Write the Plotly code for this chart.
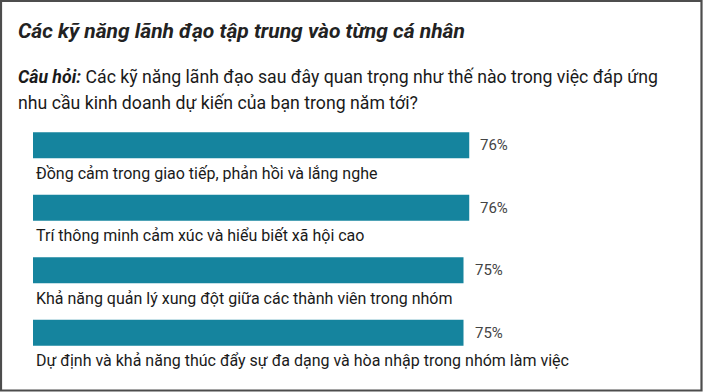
import plotly.graph_objects as go

categories = [
    "Đồng cảm trong giao tiếp, phản hồi và lắng nghe",
    "Trí thông minh cảm xúc và hiểu biết xã hội cao",
    "Khả năng quản lý xung đột giữa các thành viên trong nhóm",
    "Dự định và khả năng thúc đẩy sự đa dạng và hòa nhập trong nhóm làm việc",
]
values = [76, 76, 75, 75]
title_text = "Các kỹ năng lãnh đạo tập trung vào từng cá nhân"
question_label = "Câu hỏi:"
question_line1 = "Các kỹ năng lãnh đạo sau đây quan trọng như thế nào trong việc đáp ứng"
question_line2 = "nhu cầu kinh doanh dự kiến của bạn trong năm tới?"

W, H = 703, 392
ML, MR, MT, MB = 33, 96, 114, 28
PW, PH = W - ML - MR, H - MT - MB

def px(x):
    return (x - ML) / PW

def py(y):
    return 1 - (y - MT) / PH

FONT = "Roboto"
BAR = "#15849E"

fig = go.Figure(go.Bar(
    x=values, y=categories, orientation="h",
    marker=dict(color=BAR, line=dict(width=0)),
    cliponaxis=False, hoverinfo="skip",
))

annotations = []
for c, v in zip(categories, values):
    annotations.append(dict(
        x=0, y=c, xref="x", yref="y", text=c, showarrow=False,
        xanchor="left", yanchor="middle", xshift=1, yshift=-28,
        font=dict(family=FONT, size=16, color="#1a1a1a"),
    ))
    annotations.append(dict(
        x=v, y=c, xref="x", yref="y", text=f"{v}%", showarrow=False,
        xanchor="left", yanchor="middle", xshift=9, yshift=0,
        font=dict(family=FONT, size=15, color="#444444"),
    ))

annotations.append(dict(
    x=px(16), y=py(31), xref="paper", yref="paper",
    text=f"<b><i>{title_text}</i></b>", showarrow=False,
    xanchor="left", yanchor="middle",
    font=dict(family=FONT, size=21, color="#222222"),
))
annotations.append(dict(
    x=px(16), y=py(77), xref="paper", yref="paper",
    text=f"<b><i>{question_label}</i></b> {question_line1}", showarrow=False,
    xanchor="left", yanchor="middle", align="left",
    font=dict(family=FONT, size=17.7, color="#1a1a1a"),
))
annotations.append(dict(
    x=px(16), y=py(103), xref="paper", yref="paper",
    text=question_line2, showarrow=False,
    xanchor="left", yanchor="middle", align="left",
    font=dict(family=FONT, size=17.7, color="#1a1a1a"),
))

shapes = [dict(
    type="rect", xref="paper", yref="paper",
    x0=px(1), x1=px(701.5), y0=py(1), y1=py(390.5),
    line=dict(color="#4d4d4d", width=2.2), fillcolor="rgba(0,0,0,0)",
    layer="below",
)]

fig.update_layout(
    width=W, height=H,
    margin=dict(l=ML, r=MR, t=MT, b=MB, autoexpand=False),
    paper_bgcolor="white", plot_bgcolor="white",
    showlegend=False, bargap=0.584,
    xaxis=dict(range=[0, 100], visible=False, fixedrange=True),
    yaxis=dict(range=[3.5, -0.5], visible=False, fixedrange=True),
    annotations=annotations, shapes=shapes,
)

fig.write_html(
    "out.html",
    config={"displayModeBar": False, "staticPlot": True},
    post_script="document.body.style.margin='0';document.body.style.overflow='hidden';",
)
